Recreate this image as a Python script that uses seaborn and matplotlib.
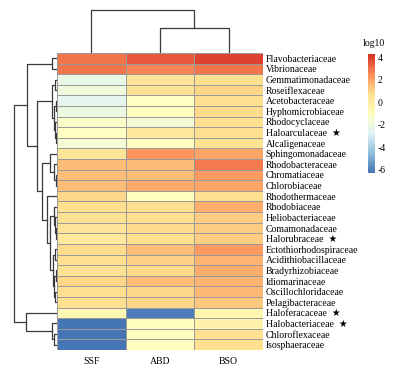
import numpy as np
import pandas as pd
import seaborn as sns
import matplotlib.pyplot as plt
from matplotlib.colors import LinearSegmentedColormap

# families in the clustered (display) order
families = ['Flavobacteriaceae', 'Vibrionaceae', 'Gemmatimonadaceae', 'Roseiflexaceae',
            'Acetobacteraceae', 'Hyphomicrobiaceae', 'Rhodocyclaceae', 'Haloarculaceae',
            'Alcaligenaceae', 'Sphingomonadaceae', 'Rhodobacteraceae', 'Chromatiaceae',
            'Chlorobiaceae', 'Rhodothermaceae', 'Rhodobiaceae', 'Heliobacteriaceae',
            'Comamonadaceae', 'Halorubraceae', 'Ectothiorhodospiraceae', 'Acidithiobacillaceae',
            'Bradyrhizobiaceae', 'Idiomarinaceae', 'Oscillochloridaceae', 'Pelagibacteraceae',
            'Haloferacaceae', 'Halobacteriaceae', 'Chloroflexaceae', 'Isosphaeraceae']
starred = ['Haloarculaceae', 'Halorubraceae', 'Haloferacaceae', 'Halobacteriaceae']
samples = ['SSF', 'ABD', 'BSO']

# log10 values
ssf = [3.0, 3.0, -2.2, -1.9, -2.4, -2.0, -1.3, -1.1, -1.6, 0.4, 1.5, 1.5, 1.5, 1.0,
       0.7, 0.6, 0.5, 0.3, 0.9, 0.8, 0.6, 1.0, 0.8, 0.7, -0.6, -6.2, -6.2, -6.2]
abd = [3.5, 2.7, 0.5, 0.6, -1.1, -1.0, -1.7, 0.3, -1.0, 2.3, 1.5, 1.5, 1.9, -0.9,
       0.8, 0.8, 0.9, 0.8, 1.5, 1.1, 0.9, 1.5, 1.0, 1.0, -6.0, -0.9, -1.0, -0.9]
bso = [3.9, 3.0, 0.8, 1.0, 0.8, 0.9, 0.7, 0.7, 0.6, 2.0, 2.9, 2.2, 2.0, 0.7,
       1.8, 1.2, 1.2, 1.2, 2.2, 1.7, 1.8, 1.7, 1.6, 1.3, -0.4, -0.3, 0.8, 0.8]

# dendrograms: (distance, left, right), leaves are row / column positions
row_tree = (43,
            (30, (5, 0, 1),
             (20, (5, (2.5, 2, 3), (3, (1.5, 4, 5), (2.5, 6, (1.5, 7, 8)))),
              (15, (7, 9, (3, 10, (1.5, 11, 12))),
               (10, 13, (7, (3, 14, (2, 15, (1.5, 16, 17))),
                         (4, (2, 18, 19), (3, (1.5, 20, 21), (2, 22, 23)))))))),
            (31, 24, (5, 25, (3, 26, 27))))
col_tree = (43, 0, (25, 1, 2))

pal = ['#4575B4', '#91BFDB', '#E0F3F8', '#FFFFBF', '#FEE090', '#FC8D59', '#D73027']
cmap = LinearSegmentedColormap.from_list('rdylbu', pal, N=100)

labels = [f + '  \u2605' if f in starred else f for f in families]
df = pd.DataFrame({'SSF': ssf, 'ABD': abd, 'BSO': bso}, index=labels)[samples]

plt.rcParams['font.family'] = ['Liberation Serif', 'DejaVu Sans']
plt.rcParams['axes.unicode_minus'] = False

W, H = 399, 375
fig = plt.figure(figsize=(W / 100, H / 100), dpi=100)


def box(x0, y0, x1, y1):
    return [x0 / W, 1 - y1 / H, (x1 - x0) / W, (y1 - y0) / H]


ax = fig.add_axes(box(57, 53, 263, 350))
rax = fig.add_axes(box(10, 53, 57, 350))
cdax = fig.add_axes(box(57, 8, 263, 53))
cax = fig.add_axes(box(368, 54, 375, 173))

sns.heatmap(df, ax=ax, cmap=cmap, vmin=-6.3, vmax=4.3, linewidths=0.6,
            linecolor='#9a9a9a', cbar_ax=cax, xticklabels=True, yticklabels=True)
ax.yaxis.tick_right()
ax.tick_params(axis='y', length=0, pad=2, labelsize=7, rotation=0)
ax.tick_params(axis='x', length=0, pad=5, labelsize=7, rotation=0)
for t in ax.get_yticklabels():
    t.set_horizontalalignment('left')
ax.set_xlabel('')
ax.set_ylabel('')


def draw(a, node, horiz):
    if not isinstance(node, tuple):
        return node + 0.5, 0
    d, l, r = node
    pl, dl = draw(a, l, horiz)
    pr, dr = draw(a, r, horiz)
    if horiz:
        a.plot([dl, d, d, dr], [pl, pl, pr, pr], color='#3a3a3a', lw=0.9)
    else:
        a.plot([pl, pl, pr, pr], [dl, d, d, dr], color='#3a3a3a', lw=0.9)
    return (pl + pr) / 2, d


draw(rax, row_tree, True)
rax.set_xlim(47, 0)
rax.set_ylim(len(families), 0)
rax.axis('off')

draw(cdax, col_tree, False)
cdax.set_xlim(0, len(samples))
cdax.set_ylim(0, 45)
cdax.axis('off')

cbar = ax.collections[0].colorbar
cbar.outline.set_visible(False)
cbar.set_ticks([-6, -4, -2, 0, 2, 4])
cax.tick_params(length=0, labelsize=7, pad=2)
fig.text(374 / W, 1 - 43 / H, 'log10', ha='center', va='center', fontsize=7)

fig.savefig('out.png', dpi=100)
